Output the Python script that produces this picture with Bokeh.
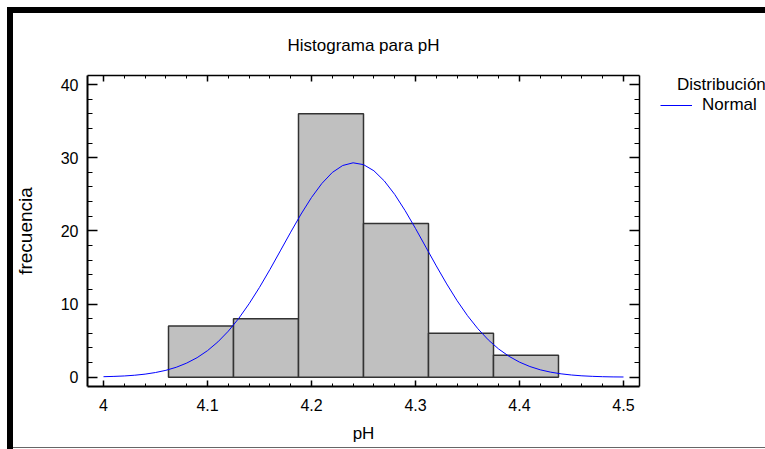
from bokeh.plotting import figure
from bokeh.layouts import row
from bokeh.models import (SingleIntervalTicker, LinearAxis, CustomJSTickFormatter,
                          Range1d, Legend, LegendItem)
from bokeh.embed import file_html
from bokeh.resources import INLINE

# ---- data ----
bin_left = [4.0625, 4.125, 4.1875, 4.25, 4.3125, 4.375]
bin_right = [4.125, 4.1875, 4.25, 4.3125, 4.375, 4.4375]
counts = [7, 8, 36, 21, 6, 3]

curve_x = [4.00, 4.01, 4.02, 4.03, 4.04, 4.05, 4.06, 4.07, 4.08, 4.09,
           4.10, 4.11, 4.12, 4.13, 4.14, 4.15, 4.16, 4.17, 4.18, 4.19,
           4.20, 4.21, 4.22, 4.23, 4.24, 4.25, 4.26, 4.27, 4.28, 4.29,
           4.30, 4.31, 4.32, 4.33, 4.34, 4.35, 4.36, 4.37, 4.38, 4.39,
           4.40, 4.41, 4.42, 4.43, 4.44, 4.45, 4.46, 4.47, 4.48, 4.49, 4.50]
curve_y = [0.07, 0.11, 0.17, 0.27, 0.42, 0.64, 0.94, 1.36, 1.93, 2.67,
           3.63, 4.83, 6.29, 8.03, 10.04, 12.28, 14.71, 17.26, 19.82, 22.30,
           24.56, 26.48, 27.98, 28.93, 29.30, 29.05, 28.21, 26.82, 24.98, 22.77,
           20.33, 17.77, 15.21, 12.75, 10.46, 8.41, 6.62, 5.10, 3.85, 2.85,
           2.06, 1.46, 1.01, 0.69, 0.46, 0.30, 0.19, 0.12, 0.07, 0.04, 0.03]

title_text = "Histograma para pH"
x_label = "pH"
y_label = "frecuencia"
legend_title = "Distribución"
legend_label = "Normal"

FONT = "Liberation Sans"
H = 449
W1, W2 = 660, 105
ML, MR, MT, MB = 87, 21, 75, 63

# ---------------- main chart ----------------
p = figure(width=W1, height=H, output_backend="svg", toolbar_location=None,
           x_range=Range1d(3.9846, 4.5154), y_range=Range1d(-1.27, 41.23),
           min_border_left=ML, min_border_right=MR, min_border_top=MT,
           min_border_bottom=MB, title=title_text,
           x_axis_label=x_label, y_axis_label=y_label)
p.outline_line_color = None
p.grid.visible = False
p.border_fill_alpha = 0
p.background_fill_color = "white"
p.styles = {"background": (
    "linear-gradient(#000,#000) 7px 7px / 6px 442px no-repeat, "
    "linear-gradient(#000,#000) 7px 7px / 653px 6px no-repeat, "
    "linear-gradient(#666,#666) 12px 447px / 648px 1px no-repeat, #fff")}

p.title.text_font = FONT
p.title.text_font_size = "17px"
p.title.text_font_style = "normal"
p.title.align = "center"
p.title.text_color = "black"
p.title.standoff = 42

p.quad(left=bin_left, right=bin_right, bottom=0, top=counts,
       fill_color="#c0c0c0", line_color="#333333", line_width=1.5)
p.line(curve_x, curve_y, line_color="#0000ff", line_width=1)

fmt = CustomJSTickFormatter(code="return (Math.round(tick*10)/10).toString();")

def style_axis(ax, major_in, minor_in, lw):
    ax.major_tick_in = major_in
    ax.major_tick_out = 0
    ax.minor_tick_in = minor_in
    ax.minor_tick_out = 0
    ax.axis_line_width = lw
    ax.axis_line_color = "black"
    ax.major_tick_line_width = 1.5
    ax.minor_tick_line_width = 1
    ax.major_tick_line_color = "black"
    ax.minor_tick_line_color = "black"
    ax.major_label_text_font = FONT
    ax.major_label_text_font_size = "16px"
    ax.major_label_text_color = "black"
    ax.axis_label_text_font = FONT
    ax.axis_label_text_font_style = "normal"
    ax.axis_label_text_color = "black"

xa = p.xaxis[0]
xa.ticker = SingleIntervalTicker(interval=0.1, num_minor_ticks=5)
xa.formatter = fmt
style_axis(xa, 6, 3, 2)
xa.major_label_standoff = 12
xa.axis_label_text_font_size = "17px"
xa.axis_label_standoff = 10

ya = p.yaxis[0]
ya.ticker = SingleIntervalTicker(interval=10, num_minor_ticks=5)
style_axis(ya, 10, 5, 2)
ya.major_label_standoff = 9
ya.axis_label_text_font_size = "19px"
ya.axis_label_standoff = 22

top = LinearAxis(ticker=SingleIntervalTicker(interval=0.1, num_minor_ticks=5),
                 formatter=CustomJSTickFormatter(code="return '';"))
style_axis(top, 6, 3, 1.5)
top.major_label_standoff = 10
p.add_layout(top, "above")

right = LinearAxis(ticker=SingleIntervalTicker(interval=10, num_minor_ticks=5),
                   formatter=CustomJSTickFormatter(code="return '';"))
style_axis(right, 10, 5, 1.5)
right.major_label_standoff = 0
p.add_layout(right, "right")

# ---------------- legend panel ----------------
q = figure(width=W2, height=H, output_backend="svg", toolbar_location=None,
           x_range=Range1d(0, 1), y_range=Range1d(0, 1),
           x_axis_type=None, y_axis_type=None,
           min_border_left=0, min_border_right=0, min_border_top=73,
           min_border_bottom=0)
q.outline_line_color = None
q.grid.visible = False
q.border_fill_alpha = 0
q.background_fill_alpha = 0
q.styles = {"background": (
    "linear-gradient(#000,#000) 0px 7px / 105px 6px no-repeat, "
    "linear-gradient(#666,#666) 0px 447px / 105px 1px no-repeat, #fff")}

lr = q.line(x=[-1, -1], y=[-1, -1], line_color="#0000ff", line_width=1)
legend = Legend(items=[LegendItem(label=legend_label, renderers=[lr])],
                location="top_left", title="\u2003" + legend_title)
legend.border_line_color = None
legend.background_fill_alpha = 0
legend.padding = 0
legend.margin = 0
legend.spacing = 0
legend.glyph_width = 32
legend.glyph_height = 18
legend.label_standoff = 10
legend.label_text_font = FONT
legend.label_text_font_size = "17px"
legend.label_text_color = "black"
legend.title_text_font = FONT
legend.title_text_font_size = "17px"
legend.title_text_font_style = "normal"
legend.title_text_color = "black"
legend.title_standoff = 0
q.add_layout(legend)

layout = row(p, q, spacing=0)
open("out.html", "w").write(file_html(layout, INLINE))
